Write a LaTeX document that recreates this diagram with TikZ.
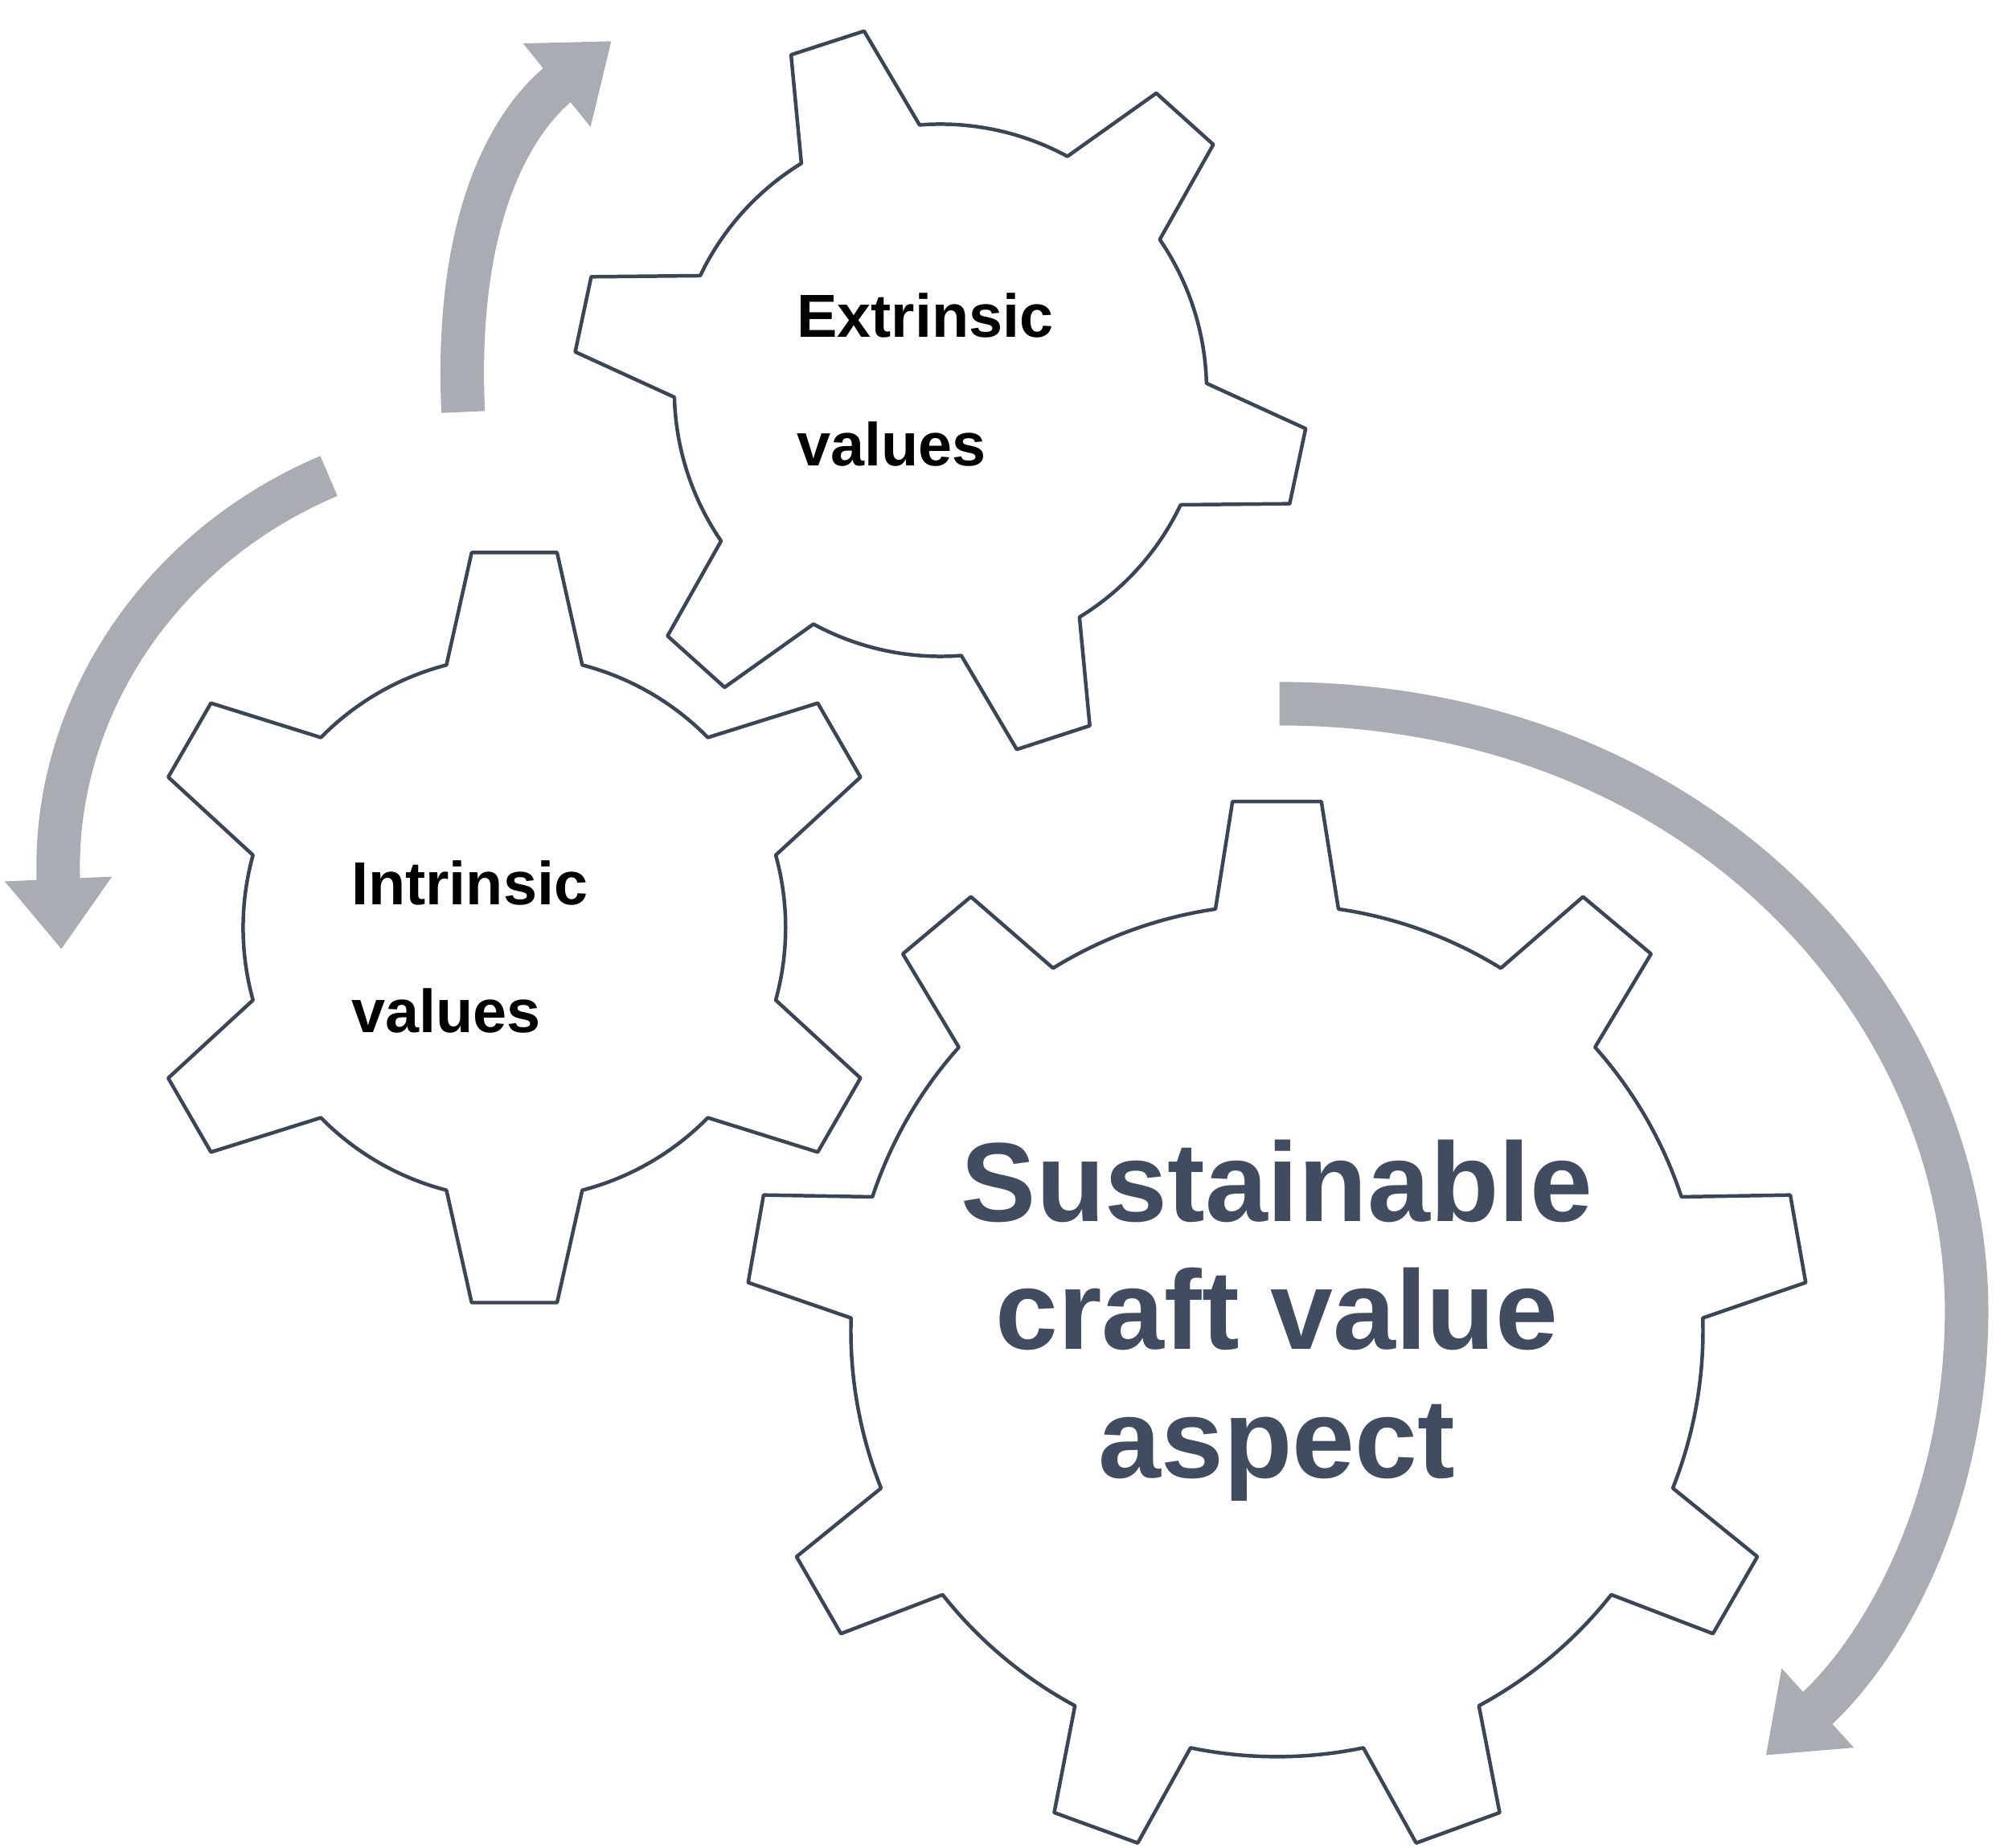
\documentclass[tikz,border=0pt]{standalone}
\usepackage{fontspec}
\setmainfont{Liberation Sans}
\usetikzlibrary{arrows.meta,calc}
\definecolor{gearc}{HTML}{3A4556}
\definecolor{arrc}{HTML}{A9ADB3}
\definecolor{bigt}{HTML}{414C60}
\tikzset{
 gearline/.style={draw=gearc,line width=0.8pt,line join=round},
 flow/.style={draw=arrc,line width=0.34cm,-{Triangle[width=0.8cm,length=0.55cm]}},
 small/.style={font=\fontsize{13.5}{28.5}\selectfont\bfseries,align=left},
 big/.style={font=\fontsize{25}{28.5}\selectfont\bfseries,text=bigt,align=center}
}
% #1 center, #2 teeth, #3 start angle, #4 rin, #5 rout, #6 root half, #7 tip half
\newcommand{\mygear}[7]{%
 \pgfmathsetmacro{\stp}{360/#2}
 \draw[gearline] ($(#1)+({#3-#6}:#4)$)
 \foreach \k in {1,...,#2}{
   -- ($(#1)+({#3+(\k-1)*\stp-#7}:#5)$) -- ($(#1)+({#3+(\k-1)*\stp+#7}:#5)$) -- ($(#1)+({#3+(\k-1)*\stp+#6}:#4)$)
   arc[start angle={#3+(\k-1)*\stp+#6}, end angle={#3+\k*\stp-#6}, radius=#4]
 } -- cycle;}
\begin{document}
\begin{tikzpicture}[x=0.01cm,y=-0.01cm]
\useasboundingbox (0,0) rectangle (1560,1444);
\coordinate (ge) at (735,305);
\coordinate (gi) at (402,725);
\coordinate (gb) at (998,1040);
\mygear{ge}{6}{-108}{208}{287}{13.5}{6}
\mygear{gi}{6}{-90}{212}{295}{14.5}{6.5}
\mygear{gb}{9}{-90}{333}{415}{8.3}{4.8}
\node[small] (te) at (723,297) {Extrinsic\\values};
\node[small] (ti) at (367,740) {Intrinsic\\values};
\node[big] (tb) at (998,1032) {Sustainable\\craft value\\aspect};
\coordinate (a1s) at (362,322);
\coordinate (a1e) at (478,32);
\draw[flow] (a1s) .. controls (355,170) and (400,95) .. (a1e);
\coordinate (a2s) at (257,372);
\coordinate (a2e) at (48,742);
\draw[flow] (a2s) .. controls (120,430) and (40,560) .. (a2e);
\coordinate (a3s) at (1000,550);
\coordinate (a3e) at (1380,1372);
\draw[flow] (a3s) .. controls (1330,550) and (1540,790) .. (1537,1030) .. controls (1535,1180) and (1470,1290) .. (a3e);
\end{tikzpicture}
\end{document}
